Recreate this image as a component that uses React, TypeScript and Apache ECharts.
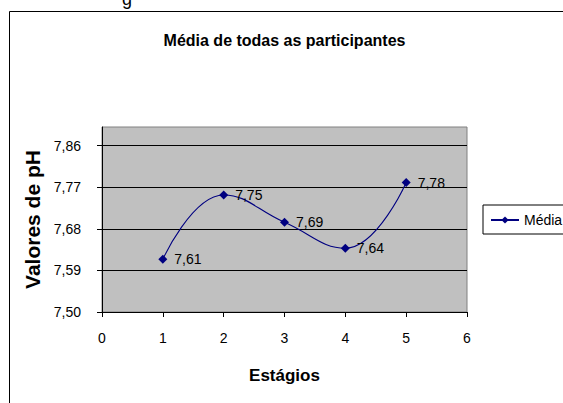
import React, { useEffect, useRef } from "react";
import * as echarts from "echarts";

const stages = [1, 2, 3, 4, 5];
const phValues = [7.614, 7.753, 7.694, 7.638, 7.78];
const seriesName = "Média";
const chartTitle = "Média de todas as participantes";
const xAxisTitle = "Estágios";
const yAxisTitle = "Valores de pH";

const FONT = "'Liberation Sans', Arial, sans-serif";

const fmt = (v: number) => v.toFixed(2).replace(".", ",");

export default function App() {
  const ref = useRef<HTMLDivElement>(null);
  useEffect(() => {
    if (!ref.current) return;
    const chart = echarts.init(ref.current, null, { renderer: "svg" });
    chart.setOption({
      animation: false,
      backgroundColor: "#ffffff",
      textStyle: { fontFamily: FONT },
      title: {
        text: chartTitle,
        left: 279.5,
        textAlign: "center",
        top: 27,
        textStyle: { fontFamily: FONT, fontSize: 16, fontWeight: "bold", color: "#000" },
      },
      graphic: [
        {
          type: "rect",
          silent: true,
          z: -1,
          shape: { x: 9.5, y: 11.5, width: 700, height: 600 },
          style: { fill: "none", stroke: "#000", lineWidth: 1 },
        },
        {
          type: "text",
          x: 122,
          y: 8,
          style: { text: "g", font: `18px ${FONT}`, fill: "#000", textVerticalAlign: "bottom" },
        },
      ],
      legend: {
        left: 483,
        top: 205,
        orient: "vertical",
        backgroundColor: "#fff",
        borderColor: "#000",
        borderWidth: 1,
        padding: [8, 6, 7, 7],
        itemWidth: 28,
        itemHeight: 9,
        textStyle: { fontFamily: FONT, fontSize: 14, color: "#000" },
        data: [seriesName],
      },
      grid: {
        left: 102,
        top: 127,
        width: 365,
        height: 185,
        show: true,
        backgroundColor: "#C0C0C0",
        borderColor: "#808080",
        borderWidth: 1,
      },
      xAxis: {
        type: "value",
        min: 0,
        max: 6,
        interval: 1,
        name: xAxisTitle,
        nameLocation: "middle",
        nameGap: 55,
        nameTextStyle: { fontFamily: FONT, fontSize: 17, fontWeight: "bold", color: "#000" },
        axisLine: { show: true, lineStyle: { color: "#000", width: 1 } },
        axisTick: { show: true, inside: false, length: 5, lineStyle: { color: "#000" } },
        axisLabel: { margin: 19, fontFamily: FONT, fontSize: 14, color: "#000" },
        splitLine: { show: false },
      },
      yAxis: {
        type: "value",
        min: 7.5,
        max: 7.9,
        interval: 0.09,
        name: yAxisTitle,
        nameLocation: "middle",
        nameGap: 52,
        nameRotate: 90,
        nameTextStyle: { fontFamily: FONT, fontSize: 21, fontWeight: "bold", color: "#000" },
        axisLine: { show: true, lineStyle: { color: "#000", width: 1 } },
        axisTick: { show: true, inside: false, length: 5, lineStyle: { color: "#000" } },
        axisLabel: {
          margin: 21,
          fontFamily: FONT,
          fontSize: 14,
          color: "#000",
          showMaxLabel: false,
          formatter: (v: number) => fmt(v),
        },
        splitLine: {
          show: true,
          showMinLine: false,
          showMaxLine: false,
          lineStyle: { color: "#000", width: 1 },
        },
      },
      series: [
        {
          name: seriesName,
          type: "line",
          smooth: 0.45,
          data: stages.map((s, i) => [s, phValues[i]]),
          symbol: "diamond",
          symbolSize: 9,
          itemStyle: { color: "#000080" },
          lineStyle: { color: "#000080", width: 1.1 },
          label: {
            show: true,
            position: "right",
            distance: 7,
            fontFamily: FONT,
            fontSize: 14,
            color: "#000",
            formatter: (p: any) => fmt(p.value[1]),
          },
        },
      ],
    });
    return () => chart.dispose();
  }, []);
  return (
    <div
      ref={ref}
      style={{ position: "fixed", left: 0, top: 0, width: 563, height: 403 }}
    />
  );
}
